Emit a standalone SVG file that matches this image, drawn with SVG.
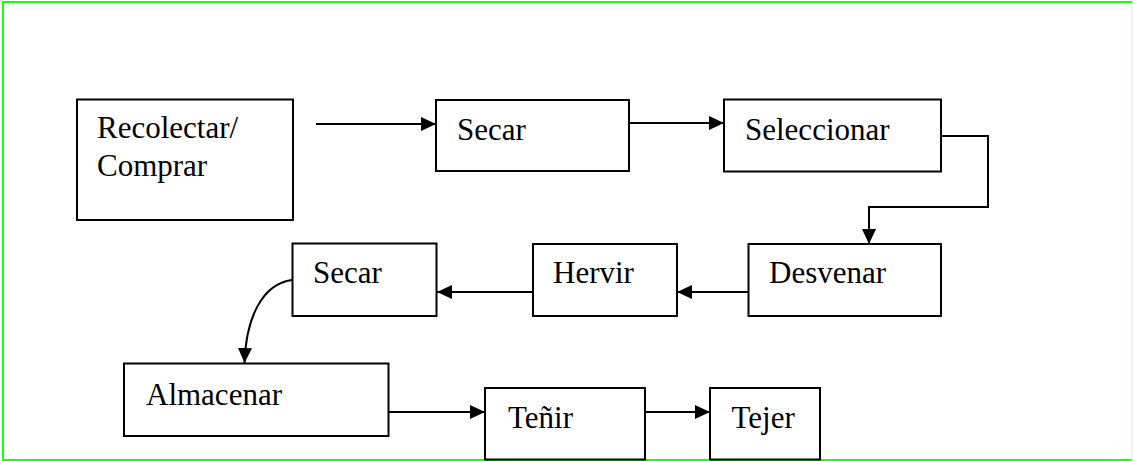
<svg xmlns="http://www.w3.org/2000/svg" width="1133" height="461" viewBox="0 0 1133 461">
<style>
.box{fill:#fff;stroke:#000;stroke-width:2}
.lbl{font-family:"Liberation Serif","Times New Roman",serif;font-size:31px;fill:#000}
.con{fill:none;stroke:#000;stroke-width:2}
</style>
<defs>
<marker id="ah" markerWidth="16" markerHeight="14" refX="15" refY="7" orient="auto" markerUnits="userSpaceOnUse">
<path d="M0,0 L15,7 L0,14 Z" fill="#000"/>
</marker>
</defs>
<rect width="1133" height="461" fill="#fff"/>
<g id="frame">
<path d="M1132,2 L3,2 L3,460 L1132,460" fill="none" stroke="#19ff19" stroke-width="2"/>
<line x1="1132" y1="2" x2="1132" y2="460" stroke="#c8f8c8" stroke-width="1"/>
</g>
<g id="connectors">
<line class="con" x1="316" y1="124" x2="436" y2="124" marker-end="url(#ah)"/>
<line class="con" x1="629" y1="123" x2="724" y2="123" marker-end="url(#ah)"/>
<polyline class="con" points="941,136 988,136 988,207 869,207 869,244" marker-end="url(#ah)"/>
<line class="con" x1="748" y1="292" x2="677" y2="292" marker-end="url(#ah)"/>
<line class="con" x1="533" y1="292" x2="437" y2="292" marker-end="url(#ah)"/>
<path class="con" d="M292,280 C262,284 246,318 244.5,363" marker-end="url(#ah)"/>
<line class="con" x1="389" y1="412" x2="485" y2="412" marker-end="url(#ah)"/>
<line class="con" x1="645" y1="412" x2="710" y2="412" marker-end="url(#ah)"/>
</g>
<g id="n-recolectar"><rect class="box" x="77" y="99.5" width="216" height="120.5"/><text class="lbl" x="97" y="138">Recolectar/</text><text class="lbl" x="97" y="176">Comprar</text></g>
<g id="n-secar1"><rect class="box" x="436" y="100" width="193" height="71"/><text class="lbl" x="457" y="140">Secar</text></g>
<g id="n-seleccionar"><rect class="box" x="724" y="99.5" width="217" height="72"/><text class="lbl" x="745" y="140">Seleccionar</text></g>
<g id="n-desvenar"><rect class="box" x="748.5" y="244" width="192.5" height="72"/><text class="lbl" x="769" y="283">Desvenar</text></g>
<g id="n-hervir"><rect class="box" x="533" y="244" width="144" height="72"/><text class="lbl" x="553" y="283">Hervir</text></g>
<g id="n-secar2"><rect class="box" x="292.5" y="243.5" width="144" height="72.5"/><text class="lbl" x="313" y="283">Secar</text></g>
<g id="n-almacenar"><rect class="box" x="124" y="363.5" width="264.5" height="72.5"/><text class="lbl" x="146" y="405">Almacenar</text></g>
<g id="n-tenir"><rect class="box" x="485" y="388" width="160" height="71.5"/><text class="lbl" x="508" y="428">Teñir</text></g>
<g id="n-tejer"><rect class="box" x="710" y="388" width="110" height="71.5"/><text class="lbl" x="731.5" y="428">Tejer</text></g>
</svg>
